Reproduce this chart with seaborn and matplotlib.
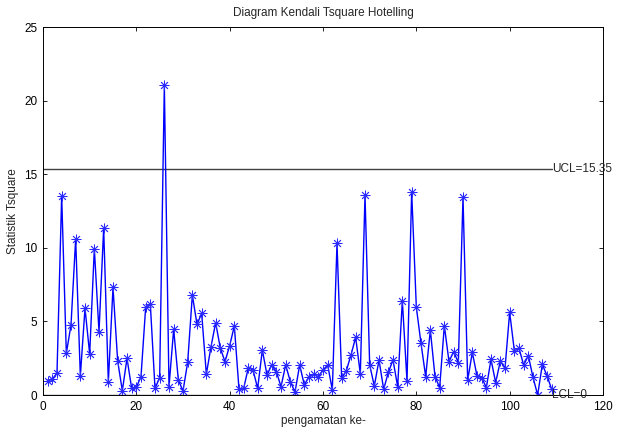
import numpy as np
import pandas as pd
import matplotlib
matplotlib.use("Agg")
import matplotlib.pyplot as plt
import seaborn as sns

# Hotelling T-square statistic per observation
t2_values = [
    0.97, 1.07, 1.50, 13.52, 2.83, 4.76, 10.60, 1.29, 5.89, 2.79,
    9.94, 4.30, 11.32, 0.90, 7.31, 2.31, 0.29, 2.49, 0.45, 0.52,
    1.25, 5.96, 6.16, 0.45, 1.18, 21.06, 0.57, 4.46, 1.02, 0.27,
    2.22, 6.79, 4.80, 5.55, 1.41, 3.28, 4.91, 3.17, 2.27, 3.35,
    4.69, 0.39, 0.45, 1.86, 1.70, 0.45, 3.06, 1.36, 2.04, 1.58,
    0.57, 2.04, 0.91, 0.20, 2.04, 0.68, 1.25, 1.40, 1.25, 1.70,
    2.04, 0.34, 10.30, 1.13, 1.65, 2.72, 3.92, 1.43, 13.60, 2.04,
    0.61, 2.38, 0.39, 1.54, 2.38, 0.57, 6.41, 0.95, 13.81, 5.96,
    3.51, 1.25, 4.42, 1.25, 0.50, 4.71, 2.27, 2.95, 2.20, 13.43,
    1.00, 2.90, 1.29, 1.18, 0.50, 2.42, 0.84, 2.31, 1.81, 5.62,
    3.01, 3.17, 2.04, 2.67, 1.20, 0.00, 2.08, 1.31, 0.39,
]
observation = list(range(1, len(t2_values) + 1))
ucl = 15.35
lcl = 0
x_ticks = [0, 20, 40, 60, 80, 100, 120]
y_ticks = [0, 5, 10, 15, 20, 25]

sns.set_style("ticks")
plt.rcParams["font.family"] = ["Liberation Sans", "DejaVu Sans"]

df = pd.DataFrame({"obs": observation, "t2": t2_values})

fig = plt.figure(figsize=(6.18, 4.32), dpi=100)
ax = fig.add_axes([43 / 618, 1 - 395 / 432, 560 / 618, 368 / 432])

n = len(t2_values)
ax.plot([0, n], [ucl, ucl], color="#404040", linewidth=1.0)
ax.plot([0, n], [lcl, lcl], color="#404040", linewidth=1.0)

sns.lineplot(data=df, x="obs", y="t2", ax=ax, color="#0000ff",
             linewidth=1.0, marker=(8, 2, 0), markersize=7,
             markeredgecolor="#2a2aff", markeredgewidth=0.6)

ax.text(n, ucl, f"UCL={ucl:.2f}", ha="left", va="center", fontsize=8.5)
ax.text(n, lcl, f"LCL={lcl}", ha="left", va="center", fontsize=8.5)

ax.set_xlim(0, 120)
ax.set_ylim(0, 25)
ax.set_xticks(x_ticks)
ax.set_yticks(y_ticks)
ax.tick_params(direction="in", top=True, right=True, length=3,
               width=0.6, labelsize=8.5, colors="black", pad=4)
for s in ax.spines.values():
    s.set_visible(True)
    s.set_color("black")
    s.set_linewidth(0.7)

ax.set_title("Diagram Kendali Tsquare Hotelling", fontsize=8.5, pad=8)
ax.set_xlabel("pengamatan ke-", fontsize=8.5, labelpad=2)
ax.set_ylabel("Statistik Tsquare", fontsize=8.5, labelpad=4)

fig.savefig("out.png", dpi=100)
